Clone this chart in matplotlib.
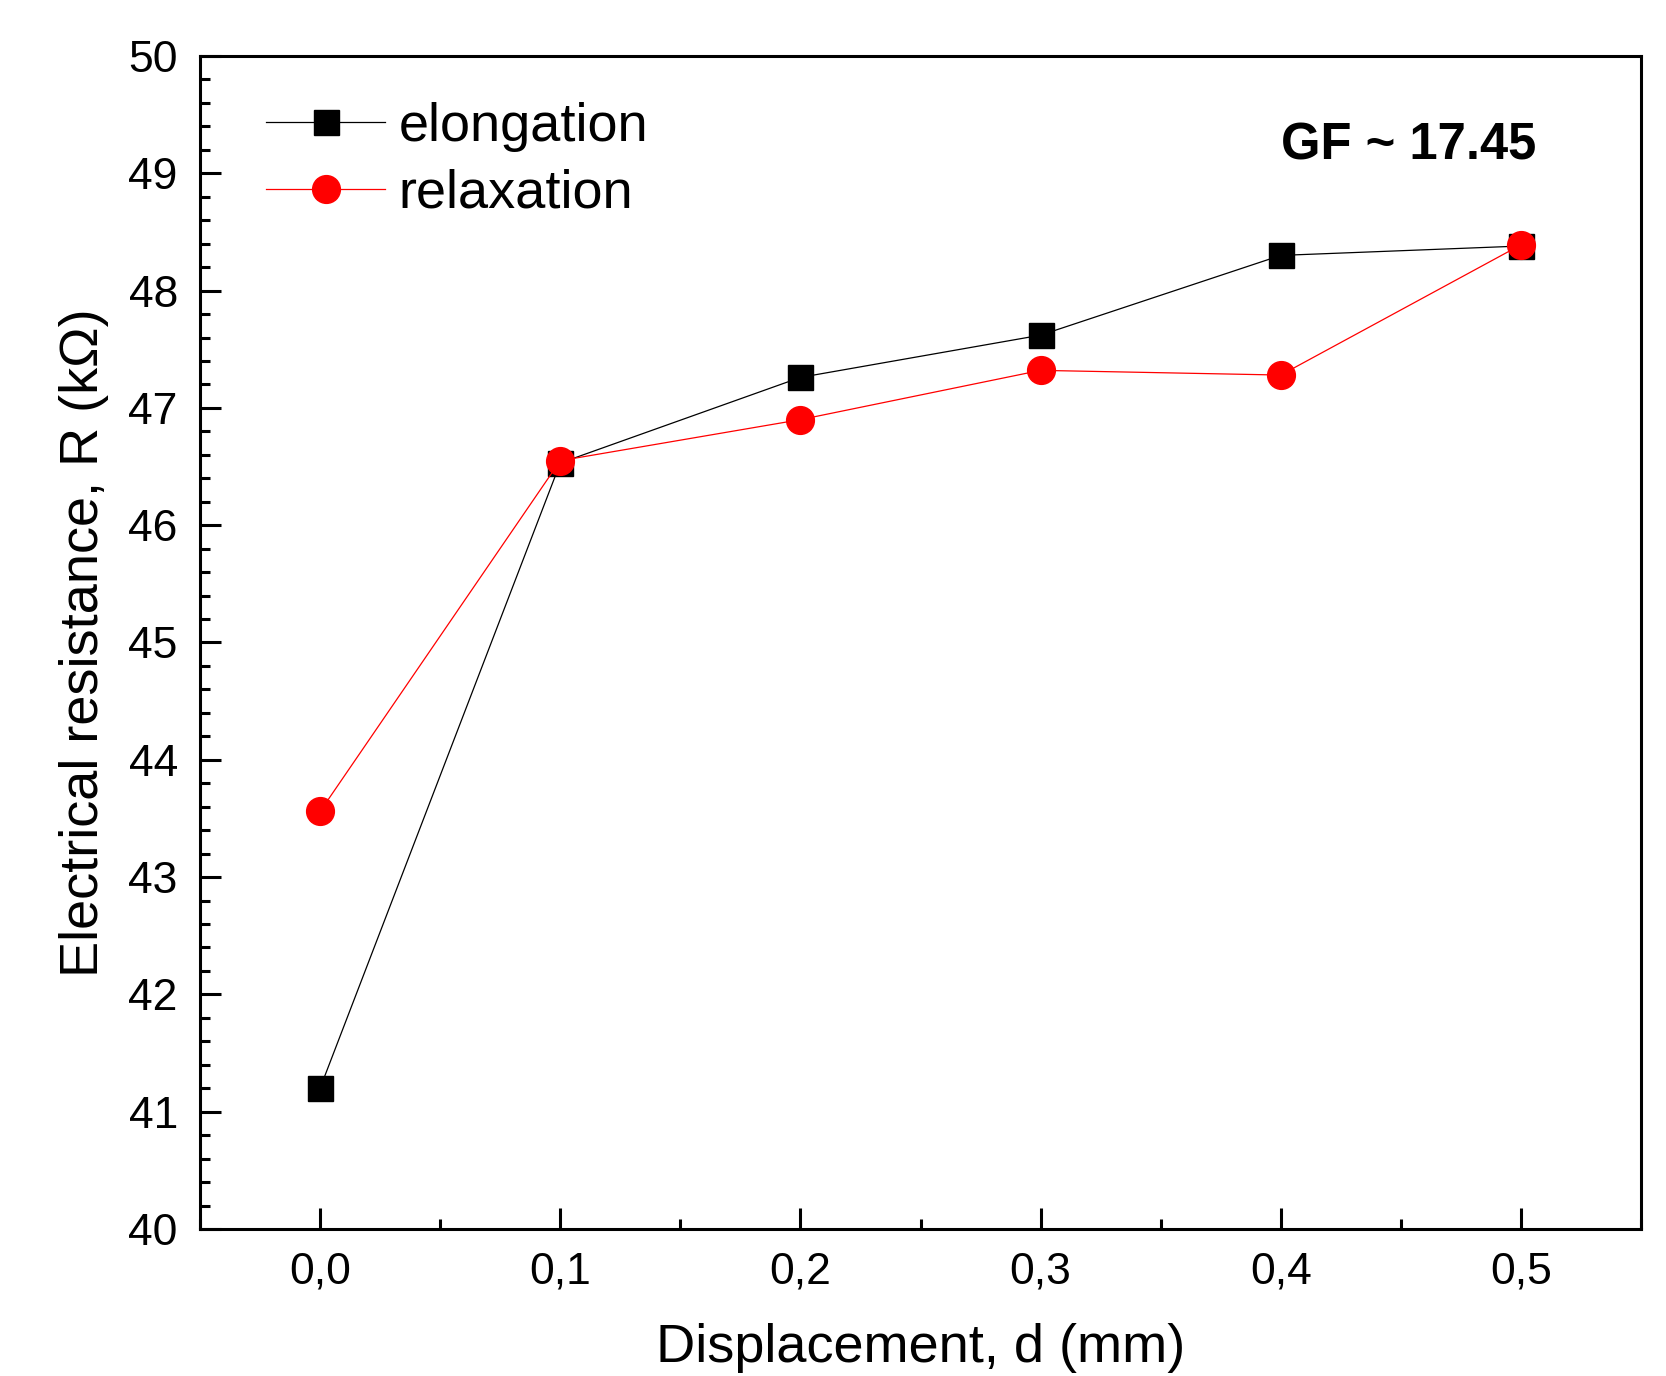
import numpy as np
import matplotlib.pyplot as plt
from matplotlib.ticker import MultipleLocator, FuncFormatter

plt.rcParams['font.family'] = ['Liberation Sans', 'DejaVu Sans']

# data
disp = [0.0, 0.1, 0.2, 0.3, 0.4, 0.5]
elongation = [41.20, 46.53, 47.26, 47.62, 48.30, 48.38]
relaxation = [43.56, 46.55, 46.90, 47.32, 47.28, 48.39]

fig = plt.figure(figsize=(16.66, 13.76), dpi=100)
ax = fig.add_axes([200/1666, 1 - 1229/1376, 1441/1666, 1173/1376])

ax.plot(disp, elongation, 's-', color='black', lw=0.9, ms=18, label='elongation')
ax.plot(disp, relaxation, 'o-', color='red', lw=0.9, ms=20, label='relaxation')

ax.set_xlim(-0.05, 0.55)
ax.set_ylim(40, 50)
ax.xaxis.set_major_locator(MultipleLocator(0.1))
ax.xaxis.set_minor_locator(MultipleLocator(0.05))
ax.yaxis.set_major_locator(MultipleLocator(1))
ax.yaxis.set_minor_locator(MultipleLocator(0.2))
ax.xaxis.set_major_formatter(FuncFormatter(lambda v, p: ('%.1f' % v).replace('.', ',')))

ax.tick_params(which='both', direction='in', width=2.2, top=False, right=False,
               labelsize=32)
ax.tick_params(which='major', length=15)
ax.tick_params(which='minor', length=7.5)
ax.tick_params(axis='x', pad=16)
ax.tick_params(axis='y', pad=16)
for s in ax.spines.values():
    s.set_linewidth(2.2)

ax.set_xlabel('Displacement, d (mm)', fontsize=39, labelpad=22)
ax.set_ylabel('Electrical resistance, R (k\u03a9)', fontsize=39, labelpad=14)

ax.legend(loc='upper left', bbox_to_anchor=(0.012, 1.002), frameon=False,
          fontsize=39, handlelength=2.2, handletextpad=0.25, labelspacing=0.3)

ax.text(0.927, 0.923, 'GF ~ 17.45', transform=ax.transAxes, ha='right',
        va='center', fontsize=36.5, fontweight='bold')

fig.savefig('out.png', dpi=100)
